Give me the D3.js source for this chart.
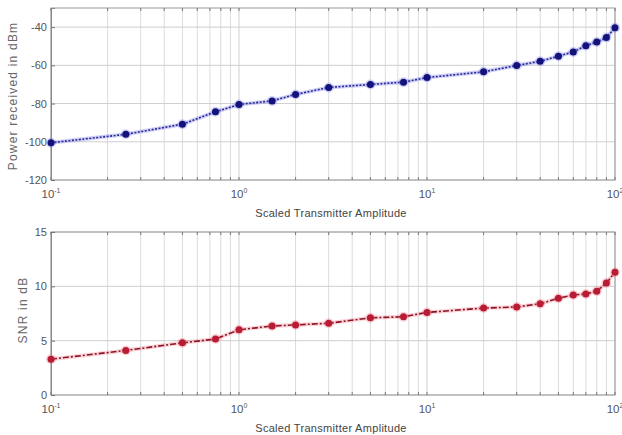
<!DOCTYPE html>
<html>
<head>
<meta charset="utf-8">
<script src="https://cdn.jsdelivr.net/npm/d3@7"></script>
<style>
  body { margin: 0; background: #fff; }
  svg { display: block; font-family: "Liberation Sans", Arial, sans-serif; }
</style>
</head>
<body>
<svg id="chart" width="622" height="435"></svg>
<script>
// transmitter amplitude (x, shared by both plots)
const amplitude = [0.1, 0.25, 0.5, 0.75, 1, 1.5, 2, 3, 5, 7.5, 10, 20, 30, 40, 50, 60, 70, 80, 90, 100];
// received power in dBm
const powerDbm = [-100.5, -96.1, -90.8, -84.3, -80.5, -78.6, -75.2, -71.6, -70.0, -68.8,
                  -66.4, -63.4, -60.1, -57.9, -55.2, -53.0, -49.7, -47.8, -45.5, -40.3];
// SNR in dB
const snrDb = [3.3, 4.1, 4.8, 5.15, 6.0, 6.35, 6.45, 6.6, 7.1, 7.2,
               7.6, 8.0, 8.1, 8.4, 8.9, 9.2, 9.3, 9.55, 10.3, 11.3];
const powerTicks = [-120, -100, -80, -60, -40];
const snrTicks = [0, 5, 10, 15];
const decadeTicks = [0.1, 1, 10, 100];
const decadeExp = ["-1", "0", "1", "2"];

const svg = d3.select("#chart");
const left = 51, right = 615;

const x = d3.scaleLog().domain([0.1, 100]).range([left, right]);

// minor positions 2..9 in every decade
const minor = [];
[0.1, 1, 10].forEach(d => { for (let k = 2; k <= 9; k++) minor.push(d * k); });

function drawPanel(cfg) {
  const y = d3.scaleLinear().domain(cfg.domain).range([cfg.bottom, cfg.top]);
  const g = svg.append("g");

  // grid
  g.selectAll(".gx").data(minor).enter().append("line")
    .attr("x1", d => x(d)).attr("x2", d => x(d))
    .attr("y1", cfg.top).attr("y2", cfg.bottom)
    .attr("stroke", "#dcdcdc").attr("stroke-width", 1);
  g.selectAll(".gxm").data(decadeTicks).enter().append("line")
    .attr("x1", d => x(d)).attr("x2", d => x(d))
    .attr("y1", cfg.top).attr("y2", cfg.bottom)
    .attr("stroke", "#cfcfcf").attr("stroke-width", 1);
  g.selectAll(".gy").data(cfg.ticks).enter().append("line")
    .attr("x1", left).attr("x2", right)
    .attr("y1", d => y(d)).attr("y2", d => y(d))
    .attr("stroke", "#cfcfcf").attr("stroke-width", 1);

  // box
  g.append("rect")
    .attr("x", left).attr("y", cfg.top)
    .attr("width", right - left).attr("height", cfg.bottom - cfg.top)
    .attr("fill", "none").attr("stroke", "#9a9a9a").attr("stroke-width", 1);

  // minor tick marks top and bottom
  [cfg.top, cfg.bottom].forEach((yy, i) => {
    const dir = i === 0 ? 1 : -1;
    g.selectAll(null).data(minor.concat(decadeTicks)).enter().append("line")
      .attr("x1", d => x(d)).attr("x2", d => x(d))
      .attr("y1", yy).attr("y2", yy + dir * 3)
      .attr("stroke", "#777");
  });

  // y axis
  const ya = g.append("g").attr("transform", `translate(${left},0)`)
    .call(d3.axisLeft(y).tickValues(cfg.ticks).tickSize(-4).tickPadding(4));
  ya.select(".domain").attr("stroke", "#888");
  ya.selectAll(".tick line").attr("stroke", "#777");
  ya.selectAll("text").attr("fill", "#555").attr("font-size", 11)
    .text(d => d < 0 ? "-" + Math.abs(d) : d);

  // x tick labels 10^n
  const xl = g.selectAll(".xl").data(decadeTicks).enter().append("text")
    .attr("x", d => x(d)).attr("y", cfg.bottom + 18)
    .attr("text-anchor", "middle").attr("fill", "#555").attr("font-size", 11.5);
  xl.append("tspan").text("10");
  xl.append("tspan").attr("dy", -5).attr("font-size", 7).text((d, i) => decadeExp[i]);

  // axis labels
  g.append("text").attr("x", 331).attr("y", cfg.bottom + 37)
    .attr("text-anchor", "middle").attr("fill", "#444").attr("font-size", 11)
    .attr("letter-spacing", 0.3)
    .text("Scaled Transmitter Amplitude");
  g.append("text")
    .attr("transform", `translate(${cfg.ylabelX},${cfg.ylabelY}) rotate(-90)`)
    .attr("text-anchor", "middle").attr("fill", "#666").attr("font-size", 12)
    .attr("letter-spacing", 1.2)
    .text(cfg.ylabel);

  // series
  const pts = amplitude.map((a, i) => [a, cfg.values[i]]);
  const line = d3.line().x(d => x(d[0])).y(d => y(d[1]));
  g.append("path").datum(pts).attr("d", line)
    .attr("fill", "none").attr("stroke", cfg.halo).attr("stroke-width", 4).attr("opacity", 0.3);
  g.append("path").datum(pts).attr("d", line)
    .attr("fill", "none").attr("stroke", cfg.lineColor).attr("stroke-width", 1.6)
    .attr("stroke-dasharray", cfg.dash);
  g.selectAll(".halo").data(pts).enter().append("circle")
    .attr("cx", d => x(d[0])).attr("cy", d => y(d[1])).attr("r", 5)
    .attr("fill", cfg.halo).attr("opacity", 0.3);
  g.selectAll(".dot").data(pts).enter().append("circle")
    .attr("cx", d => x(d[0])).attr("cy", d => y(d[1])).attr("r", 3.5)
    .attr("fill", cfg.markColor);
}

drawPanel({
  top: 8, bottom: 180, domain: [-120, -30], ticks: powerTicks, values: powerDbm,
  ylabel: "Power received in dBm", ylabelX: 17, ylabelY: 96,
  lineColor: "#28289a", markColor: "#12127a", halo: "#6a6ae0", dash: "2,1.5"
});
drawPanel({
  top: 232, bottom: 395, domain: [0, 15], ticks: snrTicks, values: snrDb,
  ylabel: "SNR in dB", ylabelX: 27, ylabelY: 310,
  lineColor: "#8a1424", markColor: "#b81c34", halo: "#f07080", dash: "6,2,2,2"
});
</script>
</body>
</html>
